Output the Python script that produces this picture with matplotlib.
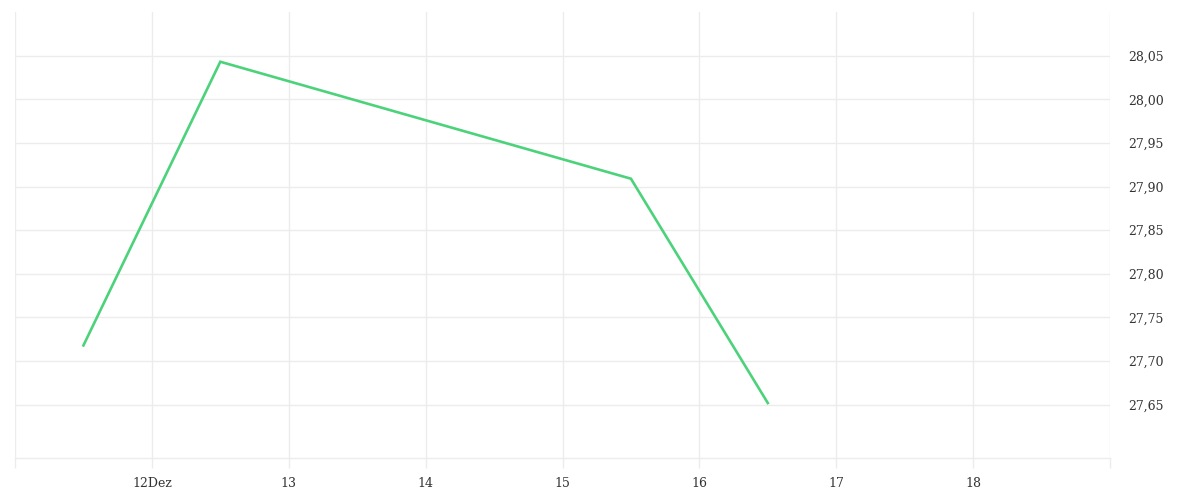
import matplotlib
matplotlib.use("Agg")
import matplotlib.pyplot as plt
import matplotlib.dates as mdates
from matplotlib.ticker import FixedLocator, FuncFormatter
from datetime import datetime

# Data
dates = ["2024-12-11 12:00", "2024-12-12 12:00", "2024-12-15 12:00", "2024-12-16 12:00"]
values = [27.718, 28.043, 27.909, 27.652]
x_tick_days = ["2024-12-11", "2024-12-12", "2024-12-13", "2024-12-14", "2024-12-15",
               "2024-12-16", "2024-12-17", "2024-12-18", "2024-12-19"]
x_tick_labels = ["", "12Dez", "13", "14", "15", "16", "17", "18", ""]
y_ticks = [27.65, 27.70, 27.75, 27.80, 27.85, 27.90, 27.95, 28.00, 28.05]

grid_c = "#ececec"
text_c = "#333333"
line_c = "#4cd27a"

fig = plt.figure(figsize=(12, 5), dpi=100)
ax = fig.add_axes([15/1200, 42/500, 1095/1200, 446/500])

xd = [datetime.strptime(d, "%Y-%m-%d %H:%M") for d in dates]
ax.plot(xd, values, color=line_c, lw=1.9, solid_joinstyle="miter")

xt = [mdates.date2num(datetime.strptime(d, "%Y-%m-%d")) for d in x_tick_days]
ax.set_xlim(xt[0], xt[-1])
ax.set_ylim(27.589, 28.10)

ax.xaxis.set_major_locator(FixedLocator(xt))
ax.set_xticklabels(x_tick_labels)
ax.yaxis.set_major_locator(FixedLocator(y_ticks))
ax.yaxis.set_major_formatter(FuncFormatter(lambda v, p: f"{v:.2f}".replace(".", ",")))
ax.yaxis.tick_right()

for s in ["top", "left", "right"]:
    ax.spines[s].set_visible(False)
ax.spines["bottom"].set_color(grid_c)
ax.spines["bottom"].set_linewidth(1)

ax.grid(True, color=grid_c, lw=1)
ax.set_axisbelow(True)
ax.tick_params(axis="x", length=7.5, width=1, color=grid_c, pad=6,
               labelsize=9, labelcolor=text_c)
ax.tick_params(axis="y", length=0, pad=13, labelsize=9, labelcolor=text_c)
for lab in ax.get_xticklabels() + ax.get_yticklabels():
    lab.set_fontfamily("DejaVu Serif")

fig.savefig("out.png", dpi=100, facecolor="white")
